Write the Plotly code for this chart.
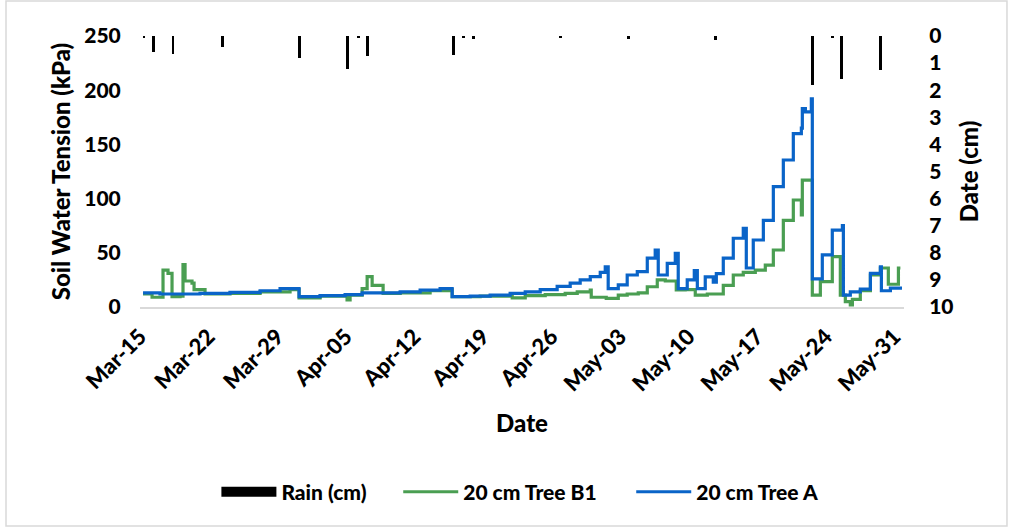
import pandas as pd
import plotly.graph_objects as go
from plotly.subplots import make_subplots

# Record start; all event times below are elapsed days from this moment
season_start = pd.Timestamp("2019-03-15")

# Rain events (elapsed days, depth in cm)
rain_day = [0.41, 1.33, 3.37, 8.38, 16.24, 21.14, 22.27, 23.19, 31.97, 32.99,
            34.01, 42.90, 49.85, 58.73, 68.64, 70.68, 71.60, 75.59]
rain_cm = [0.05, 0.6, 0.65, 0.4, 0.8, 1.2, 0.05, 0.75, 0.7, 0.05,
           0.1, 0.05, 0.1, 0.15, 1.8, 0.05, 1.6, 1.25]

# Soil water tension at 20 cm, Tree B1 (elapsed days, kPa)
tree_b1_day = [0.31, 1.23, 2.35, 2.86, 3.27, 4.09, 4.39, 4.60, 5.31, 5.52,
               6.64, 9.19, 12.26, 15.32, 16.24, 18.39, 21.14, 21.45, 22.68, 23.19,
               23.70, 24.82, 26.56, 29.62, 31.66, 31.87, 34.73, 38.00, 39.33, 41.37,
               43.41, 44.64, 45.97, 46.07, 47.60, 48.83, 49.74, 50.87, 51.79, 52.81,
               53.63, 54.75, 55.66, 56.69, 57.92, 59.55, 60.57, 61.59, 62.82, 63.84,
               64.66, 65.68, 66.70, 67.52, 67.62, 68.64, 69.46, 70.68, 71.50, 72.01,
               72.52, 72.73, 73.54, 74.57, 75.59, 76.40, 77.43, 77.63]
tree_b1_kpa = [12, 9, 34, 31, 9.5, 10, 39, 24, 22, 16,
               12, 12.5, 14, 16, 8.5, 10, 6.5, 11, 17, 28,
               20, 12.5, 13, 15, 16, 9.5, 10, 8.5, 10.5, 11.5,
               12.5, 14, 15.7, 9, 8, 11, 12, 13, 18.7, 25,
               24, 15.7, 16, 11, 12, 20, 29.5, 32, 34, 38.7,
               52.6, 80, 98.7, 85, 117, 11, 23.4, 46.4, 11, 5,
               2, 7, 15, 29.5, 36, 21, 36, 36]

# Soil water tension at 20 cm, Tree A (elapsed days, kPa)
tree_a_day = [0.31, 2.04, 6.13, 9.19, 12.26, 14.30, 16.24, 18.39, 20.94, 22.68,
              24.51, 26.56, 28.60, 30.64, 31.87, 33.71, 35.75, 37.79, 39.33, 40.86,
              42.59, 43.92, 44.94, 45.97, 46.99, 47.50, 47.80, 48.83, 49.74, 50.77,
              51.79, 52.60, 52.91, 53.83, 54.65, 54.95, 55.87, 56.59, 56.90, 57.71,
              58.53, 58.84, 59.55, 60.57, 61.59, 61.90, 62.61, 63.64, 64.66, 65.68,
              66.70, 67.52, 67.62, 67.93, 68.54, 68.64, 69.66, 70.68, 71.71, 71.81,
              72.52, 73.54, 74.57, 75.59, 75.69, 76.61, 77.63]
tree_a_kpa = [13, 12, 12.5, 13.5, 15, 17, 9.5, 10.5, 11.5, 13,
              13, 14, 15.5, 17, 9.5, 10, 11, 12.5, 14, 16,
              19, 22, 25, 28, 32, 37, 17, 20.5, 29.5, 32.6,
              45, 52.6, 29.5, 40.3, 49.5, 17, 25, 33.5, 17, 27.7,
              23, 30.7, 45, 63.4, 72.6, 36, 61.8, 80, 111, 135.6,
              160, 165, 183, 180, 192, 26, 48, 71, 75, 11,
              14, 16.5, 31, 37, 15, 17.5, 19]

# Weekly date ticks
tick_dates = ["2019-03-15", "2019-03-22", "2019-03-29", "2019-04-05", "2019-04-12",
              "2019-04-19", "2019-04-26", "2019-05-03", "2019-05-10", "2019-05-17",
              "2019-05-24", "2019-05-31"]
tick_labels = ["Mar-15", "Mar-22", "Mar-29", "Apr-05", "Apr-12", "Apr-19",
               "Apr-26", "May-03", "May-10", "May-17", "May-24", "May-31"]


def to_time(days):
    return season_start + pd.to_timedelta(days, unit="D")


GREEN = "#4A9E52"
BLUE = "#0A64C8"
FONT = "Lato"
BOLD = 900
LEGEND_FONT = dict(family=FONT, size=21, color="black", weight=BOLD)

fig = make_subplots(specs=[[{"secondary_y": True}]])

fig.add_trace(
    go.Bar(
        x=to_time(rain_day), y=rain_cm, name="Rain (cm)",
        marker=dict(color="black", line=dict(width=0)),
        width=0.3 * 86400000, showlegend=False, legendgroup="rain",
    ),
    secondary_y=True,
)
# Wide block key for the rain bars
fig.add_trace(
    go.Scatter(
        x=[None], y=[None], name="Rain (cm)", mode="lines",
        line=dict(color="black", width=14), legendgroup="rain", legend="legend",
    ),
    secondary_y=True,
)
fig.add_trace(
    go.Scatter(
        x=to_time(tree_b1_day), y=tree_b1_kpa, name="20 cm Tree B1",
        mode="lines", line=dict(color=GREEN, width=3.2, shape="hv"),
        legend="legend2",
    ),
    secondary_y=False,
)
fig.add_trace(
    go.Scatter(
        x=to_time(tree_a_day), y=tree_a_kpa, name="20 cm Tree A",
        mode="lines", line=dict(color=BLUE, width=3.2, shape="hv"),
        legend="legend2",
    ),
    secondary_y=False,
)

fig.update_xaxes(
    domain=[0, 1],
    range=[season_start, to_time(78)], automargin=False,
    tickmode="array", tickvals=tick_dates, ticktext=tick_labels,
    tickangle=-45, ticks="outside", ticklen=6, tickcolor="rgba(0,0,0,0)",
    tickfont=dict(family=FONT, size=22, color="black", weight=BOLD),
    showgrid=False, zeroline=False,
    showline=True, linecolor="#D9D9D9", linewidth=2,
    title=dict(text="Date", standoff=20,
               font=dict(family=FONT, size=24, color="black", weight=BOLD)),
)
fig.update_yaxes(
    range=[0, 250], dtick=50, secondary_y=False, automargin=False,
    ticks="outside", ticklen=14, tickcolor="rgba(0,0,0,0)",
    tickfont=dict(family=FONT, size=21, color="black", weight=BOLD),
    showgrid=False, zeroline=False, showline=False,
    title=dict(text="Soil Water Tension (kPa)", standoff=6,
               font=dict(family=FONT, size=24, color="black", weight=BOLD)),
)
fig.update_yaxes(
    range=[10, 0], dtick=1, secondary_y=True, automargin=False,
    ticks="outside", ticklen=20, tickcolor="rgba(0,0,0,0)",
    tickfont=dict(family=FONT, size=21, color="black", weight=BOLD),
    showgrid=False, zeroline=False, showline=False,
    title=dict(text="Date (cm)", standoff=8,
               font=dict(family=FONT, size=24, color="black", weight=BOLD)),
)

# Chart-area border
fig.add_shape(type="rect", xref="paper", yref="paper",
              x0=-0.1754, x1=1.1348, y0=-0.808, y1=1.129,
              line=dict(color="#D9D9D9", width=1.5), fillcolor="rgba(0,0,0,0)")

fig.update_layout(
    width=1015, height=527,
    margin=dict(l=140, r=111, t=36, b=220),
    paper_bgcolor="white", plot_bgcolor="white",
    font=dict(family=FONT, size=20, color="black", weight=BOLD),
    bargap=0,
    showlegend=True,
    legend=dict(orientation="h", x=0.100, xanchor="left", y=-0.683, yanchor="middle",
                font=LEGEND_FONT, itemwidth=55),
    legend2=dict(orientation="h", x=0.338, xanchor="left", y=-0.683, yanchor="middle",
                 font=LEGEND_FONT, itemwidth=55, entrywidth=163, entrywidthmode="pixels"),
)

fig.write_html("out.html")
